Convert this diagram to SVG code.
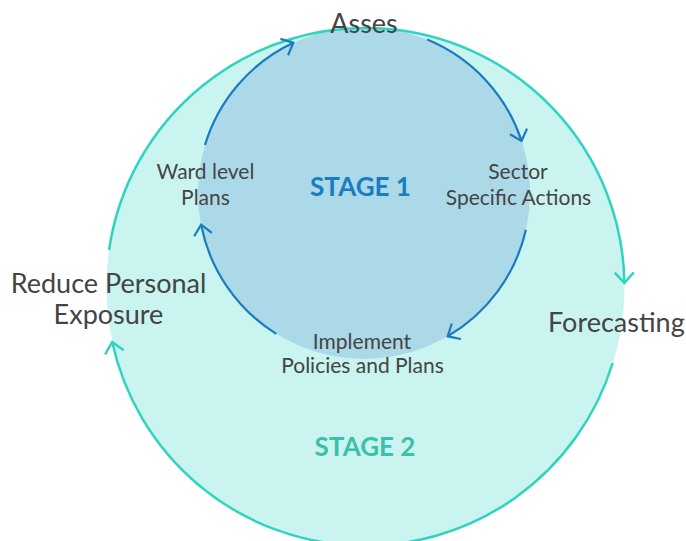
<svg xmlns="http://www.w3.org/2000/svg" width="686" height="541" viewBox="0 0 686 541">
<defs>
<style>
.lbl{font-family:Lato,"Open Sans","Liberation Sans",sans-serif;fill:#444444;text-anchor:middle}
.big{font-size:27px}
.sm{font-size:21px}
.stage{font-family:Lato,"Open Sans","Liberation Sans",sans-serif;font-weight:bold;font-size:26px;text-anchor:middle}
.oarc{fill:none;stroke:#2fd4c1;stroke-width:2.5;stroke-linecap:butt}
.iarc{fill:none;stroke:#1a7bbf;stroke-width:2.2;stroke-linecap:butt}
</style>
<marker id="ahT" markerUnits="userSpaceOnUse" markerWidth="30" markerHeight="30" viewBox="-15 -15 30 30" refX="0" refY="0" orient="auto">
<path d="M -10.5 -9.5 L 0 0 L -10.5 9.5" fill="none" stroke="#2fd4c1" stroke-width="2.5"/>
</marker>
<marker id="ahB" markerUnits="userSpaceOnUse" markerWidth="30" markerHeight="30" viewBox="-15 -15 30 30" refX="0" refY="0" orient="auto">
<path d="M -10 -9 L 0 0 L -10 9" fill="none" stroke="#1a7bbf" stroke-width="2.2"/>
</marker>
</defs>
<rect width="686" height="541" fill="#ffffff"/>
<g id="stage2">
<circle cx="365.5" cy="286.5" r="259" fill="#c9f4ef"/>
</g>
<g id="stage1">
<circle cx="364" cy="193" r="166" fill="#acd9e8"/>
</g>
<g id="connectors">
<path class="oarc" d="M 109.1 250 A 259 259 0 0 1 624.4 283" marker-end="url(#ahT)"/>
<path class="oarc" d="M 612.7 363 A 259 259 0 0 1 112.2 342" marker-end="url(#ahT)"/>
<path class="iarc" d="M 205 145 A 166 166 0 0 1 293.3 42.8" marker-end="url(#ahB)"/>
<path class="iarc" d="M 427.2 39.5 A 166 166 0 0 1 521.6 140.9" marker-end="url(#ahB)"/>
<path class="iarc" d="M 525.9 229.8 A 166 166 0 0 1 447.7 336.3" marker-end="url(#ahB)"/>
<path class="iarc" d="M 276.3 333.9 A 166 166 0 0 1 201.1 224.7" marker-end="url(#ahB)"/>
</g>
<g id="asses"><text class="lbl big" x="364" y="33">Asses</text></g>
<g id="sector"><text class="lbl sm" x="518" y="179">Sector</text><text class="lbl sm" x="518.5" y="205">Specific Actions</text></g>
<g id="implement"><text class="lbl sm" x="362" y="349">Implement</text><text class="lbl sm" x="362.5" y="373">Policies and Plans</text></g>
<g id="ward"><text class="lbl sm" x="205.5" y="179">Ward level</text><text class="lbl sm" x="205.5" y="205">Plans</text></g>
<g id="forecasting"><text class="lbl big" x="548" y="332" style="text-anchor:start">Forecasting</text></g>
<g id="reduce"><text class="lbl big" x="108.5" y="293">Reduce Personal</text><text class="lbl big" x="108.5" y="324">Exposure</text></g>
<g id="stage1label"><text class="stage" x="360.5" y="196" fill="#1a7cc1">STAGE 1</text></g>
<g id="stage2label"><text class="stage" x="365" y="456" fill="#3dbfae">STAGE 2</text></g>
</svg>
